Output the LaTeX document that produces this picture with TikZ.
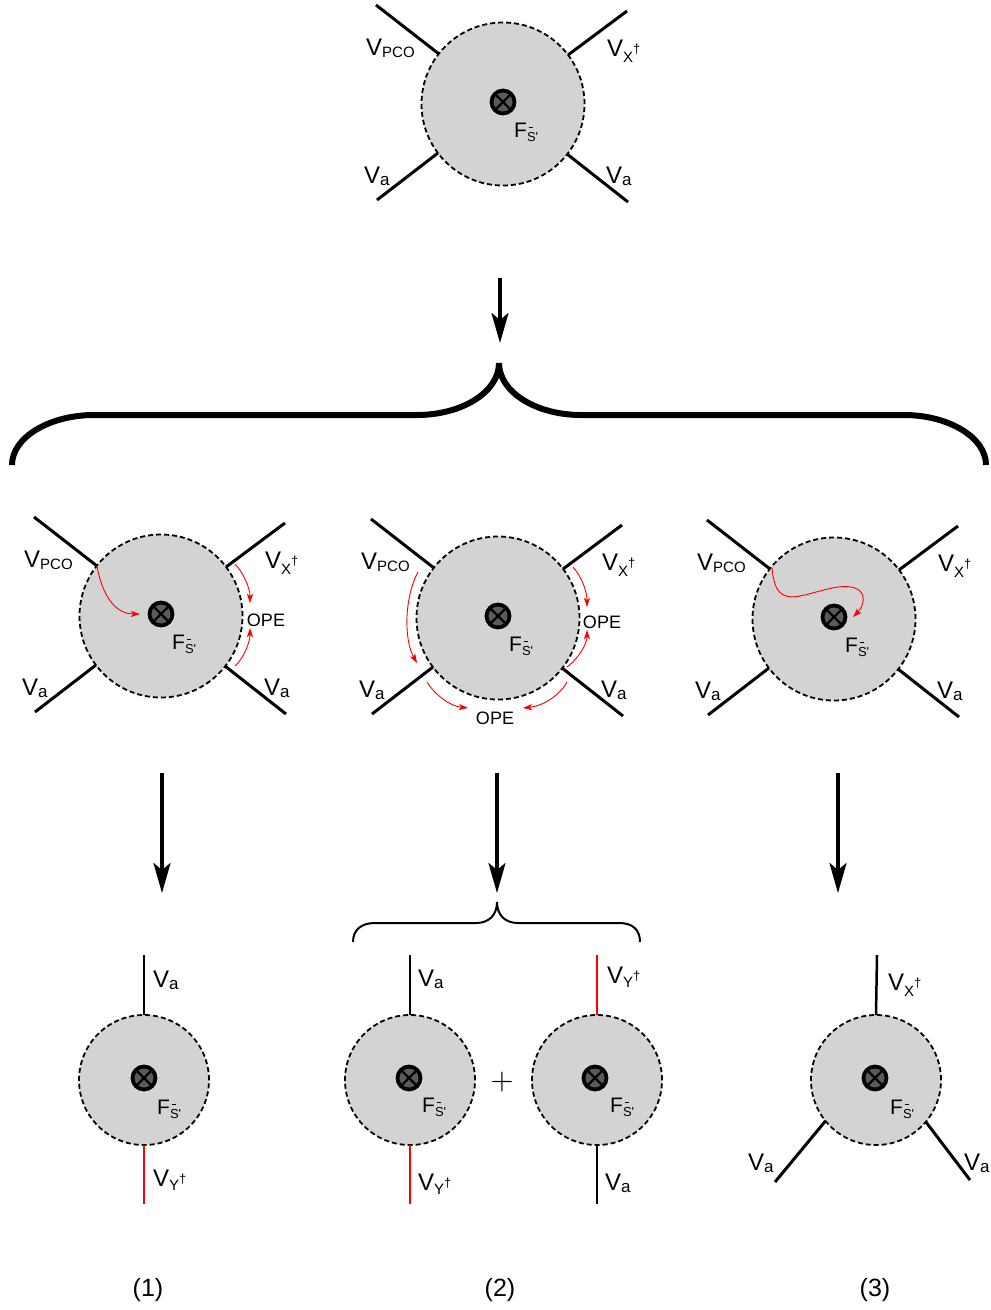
\documentclass[tikz,border=0pt]{standalone}
\usepackage{fontspec}
\newfontfamily\lib{Liberation Sans}
\usetikzlibrary{arrows.meta}
\definecolor{blobgray}{HTML}{D3D3D3}
\definecolor{xgray}{HTML}{5A5A5A}
\newcommand\Vpco{V\raisebox{-2pt}{\fontsize{15}{15}\selectfont PCO}}
\newcommand\Vsa{V\raisebox{-2pt}{\fontsize{17}{17}\selectfont a}}
\newcommand\Vxd{V\raisebox{-6pt}{\fontsize{15}{15}\selectfont X}\raisebox{3pt}{\fontsize{13}{13}\selectfont †}}
\newcommand\Vyd{V\raisebox{-4pt}{\fontsize{15}{15}\selectfont Y}\raisebox{3pt}{\fontsize{13}{13}\selectfont †}}
\newcommand\Fs{F\raisebox{-4pt}{\fontsize{13}{13}\selectfont\rlap{\kern1.5pt\raisebox{13pt}{\rule{4pt}{1.1pt}}}S'}}
\tikzset{
 blob/.style={circle, draw, fill=blobgray, dash pattern=on 5pt off 3pt, line width=1.8pt, inner sep=0pt, outer sep=0pt},
 otimes/.style={circle, draw, line width=3.8pt, fill=xgray, minimum size=23pt, inner sep=0pt, outer sep=0pt,
   path picture={\draw[line width=2.2pt] (path picture bounding box.north west) -- (path picture bounding box.south east)
     (path picture bounding box.north east) -- (path picture bounding box.south west);}},
 leg/.style={line width=3pt},
 vleg/.style={line width=2.5pt},
 rleg/.style={line width=2.5pt, red},
 lab/.style={anchor=base west, inner sep=0pt, font={\lib\fontsize{24}{28}\selectfont}},
 flab/.style={anchor=base west, inner sep=0pt, font={\lib\fontsize{21}{24}\selectfont}},
 ope/.style={inner sep=0pt, font={\lib\fontsize{18}{20}\selectfont}},
 numlab/.style={inner sep=0pt, font={\lib\fontsize{25}{28}\selectfont}},
 redarr/.style={red, line width=0.9pt, -{Stealth[length=9pt,width=6pt,inset=2pt]}},
 bigarr/.style={line width=3.5pt, -{Stealth[length=30pt,width=17pt,inset=7pt]}},
}
\newcommand\fourleg[3]{%
\begin{scope}[shift={(#2,#3)}]
 \node[blob, minimum size=163pt] (#1) at (0,0) {};
 \node[otimes] (#1x) at (0,-2) {};
 \node[flab] (#1f) at (11,33) {\Fs};
 \coordinate (#1ul) at (-127,-99);
 \coordinate (#1ur) at (124,-93);
 \coordinate (#1ll) at (-126,96);
 \coordinate (#1lr) at (125,98);
 \draw[leg] (#1.142) -- (#1ul);
 \draw[leg] (#1.37) -- (#1ur);
 \draw[leg] (#1.217) -- (#1ll);
 \draw[leg] (#1.-38) -- (#1lr);
 \node[lab] (#1l1) at (-137,-49) {\Vpco};
 \node[lab] (#1l2) at (104,-48) {\Vxd};
 \node[lab] (#1l3) at (-139,79) {\Vsa};
 \node[lab] (#1l4) at (103,79) {\Vsa};
\end{scope}}
\begin{document}
\begin{tikzpicture}[x=1pt,y=-1pt]
\useasboundingbox (0,0) rectangle (991,1310);
% top diagram
\fourleg{t}{503}{104}
% top arrow
\coordinate (a0s) at (500,278);
\coordinate (a0e) at (500,343);
\draw[bigarr] (a0s) -- (a0e);
% big brace
\draw[line width=6pt] (12,465) .. controls (12,437) and (50,415) .. (94,415) -- (417,415)
  .. controls (462,415) and (499,392) .. (499,363)
  .. controls (499,392) and (536,415) .. (581,415) -- (904,415)
  .. controls (948,415) and (986,437) .. (986,465);
% row 2
\fourleg{A}{161}{616}
\fourleg{B}{498}{618}
\fourleg{C}{834}{619}
\node[ope] (Aope) at (266,620) {OPE};
\node[ope] (Bope1) at (602,622) {OPE};
\node[ope] (Bope2) at (495,718) {OPE};
% red arrows A
\draw[redarr] (97,566) .. controls (103,600) and (118,614) .. (140,614);
\draw[redarr] (235,564) .. controls (243,572) and (250,588) .. (250,603);
\draw[redarr] (235,666) .. controls (244,658) and (250,642) .. (250,628);
% red arrows B
\draw[redarr] (418,572) .. controls (404,598) and (404,640) .. (417,663);
\draw[redarr] (573,567) .. controls (582,577) and (587,592) .. (587,607);
\draw[redarr] (567,667) .. controls (580,657) and (587,643) .. (587,630);
\draw[redarr] (427,682) .. controls (435,695) and (450,706) .. (468,708);
\draw[redarr] (567,682) .. controls (560,695) and (543,706) .. (523,708);
% red arrow C
\draw[redarr] (772,568) .. controls (774,590) and (780,600) .. (800,596)
  .. controls (820,592) and (840,583) .. (855,588)
  .. controls (867,592) and (864,606) .. (853,617);
% row 3 arrows
\coordinate (a1s) at (162,773); \coordinate (a1e) at (162,893);
\coordinate (a2s) at (497,773); \coordinate (a2e) at (497,893);
\coordinate (a3s) at (838,773); \coordinate (a3e) at (838,893);
\draw[bigarr] (a1s) -- (a1e);
\draw[bigarr] (a2s) -- (a2e);
\draw[bigarr] (a3s) -- (a3e);
% small brace
\draw[line width=2pt] (353,942) .. controls (353,930) and (361,923) .. (375,923) -- (476,923)
  .. controls (489,923) and (497,915) .. (497,902)
  .. controls (497,915) and (505,923) .. (518,923) -- (619,923)
  .. controls (633,923) and (640,930) .. (640,942);
% bottom diagram 1
\node[blob, minimum size=130pt] (b1) at (144,1080) {};
\node[otimes] (b1x) at (144,1078) {};
\node[flab] (b1f) at (157,1114) {\Fs};
\coordinate (b1t) at (144,955); \coordinate (b1b) at (144,1204);
\draw[vleg] (b1.north) -- (b1t);
\draw[rleg] (b1.south) -- (b1b);
\node[lab] (b1l1) at (153,987) {\Vsa};
\node[lab] (b1l2) at (153,1186) {\Vyd};
% bottom diagram 2a
\node[blob, minimum size=130pt] (b2) at (410,1080) {};
\node[otimes] (b2x) at (409,1078) {};
\node[flab] (b2f) at (422,1112) {\Fs};
\coordinate (b2t) at (410,955); \coordinate (b2b) at (410,1204);
\draw[vleg] (b2.north) -- (b2t);
\draw[rleg] (b2.south) -- (b2b);
\node[lab] (b2l1) at (418,986) {\Vsa};
\node[lab] (b2l2) at (418,1190) {\Vyd};
\node[inner sep=0pt] (plus) at (502,1082) {\scalebox{3}{$+$}};
% bottom diagram 2b
\node[blob, minimum size=130pt] (b3) at (597,1080) {};
\node[otimes] (b3x) at (595,1078) {};
\node[flab] (b3f) at (610,1112) {\Fs};
\coordinate (b3t) at (597,955); \coordinate (b3b) at (597,1204);
\draw[rleg] (b3.north) -- (b3t);
\draw[vleg] (b3.south) -- (b3b);
\node[lab] (b3l1) at (607,983) {\Vyd};
\node[lab] (b3l2) at (605,1190) {\Vsa};
% bottom diagram 3
\node[blob, minimum size=130pt] (b4) at (876,1080) {};
\node[otimes] (b4x) at (875,1078) {};
\node[flab] (b4f) at (890,1114) {\Fs};
\coordinate (b4t) at (877,955);
\coordinate (b4ll) at (775,1182);
\coordinate (b4lr) at (970,1180);
\draw[vleg] (b4.north) -- (b4t);
\draw[leg] (b4.219) -- (b4ll);
\draw[leg] (b4.-40.5) -- (b4lr);
\node[lab] (b4l1) at (888,990) {\Vxd};
\node[lab] (b4l2) at (748,1170) {\Vsa};
\node[lab] (b4l3) at (964,1170) {\Vsa};
% numbers
\node[numlab] (n1) at (148,1290) {(1)};
\node[numlab] (n2) at (500,1290) {(2)};
\node[numlab] (n3) at (875,1290) {(3)};
\end{tikzpicture}
\end{document}
